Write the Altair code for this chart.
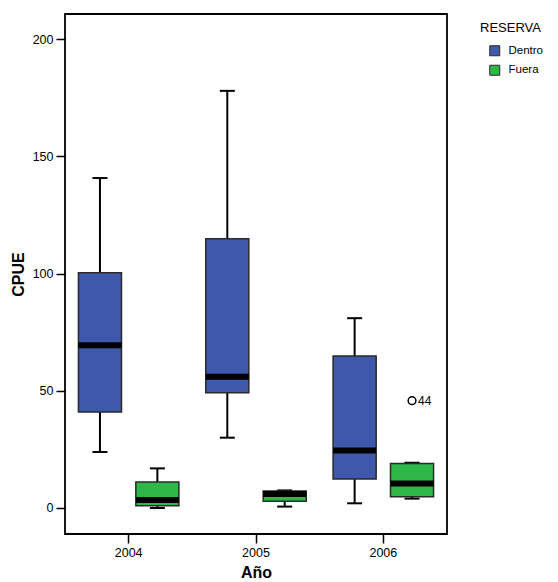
import altair as alt
import pandas as pd

# ---- data ----
years = ["2004", "2004", "2005", "2005", "2006", "2006"]
reserva = ["Dentro", "Fuera", "Dentro", "Fuera", "Dentro", "Fuera"]
lower = [23.9, 0.0, 30.0, 0.6, 2.0, 4.0]
q1 = [41.0, 1.0, 49.2, 2.9, 12.4, 4.8]
median = [69.4, 3.4, 56.0, 6.0, 24.5, 10.5]
q3 = [100.4, 11.1, 114.9, 7.3, 64.9, 19.0]
upper = [140.8, 16.9, 178.0, 7.5, 81.0, 19.3]

out_year = ["2006"]
out_res = ["Fuera"]
out_val = [45.8]
out_label = ["44"]

year_domain = ["2004", "2005", "2006"]
res_domain = ["Dentro", "Fuera"]
colors = ["#3E58AC", "#2EB848"]
y_ticks = [0, 50, 100, 150, 200]

df = pd.DataFrame({
    "Año": years, "RESERVA": reserva, "lower": lower, "q1": q1,
    "median": median, "q3": q3, "upper": upper,
})
dfo = pd.DataFrame({"Año": out_year, "RESERVA": out_res, "val": out_val, "lab": out_label})

x = alt.X("Año:N", scale=alt.Scale(domain=year_domain, paddingInner=0, paddingOuter=0),
          axis=alt.Axis(title="Año", labelAngle=0, titlePadding=6))


def XO():
    return alt.XOffset("RESERVA:N", scale=alt.Scale(domain=res_domain, paddingInner=0.25, paddingOuter=0.234))


yscale = alt.Scale(domain=[-11.1, 210.8], nice=False, zero=False)
yaxis = alt.Axis(title="CPUE", values=y_ticks, titlePadding=6)


def Y(field):
    return alt.Y(f"{field}:Q", scale=yscale, axis=yaxis)


base = alt.Chart(df)

whisk_lo = base.mark_rule(color="black", strokeWidth=2, opacity=1).encode(x=x, xOffset=XO(), y=Y("lower"), y2="q1")
whisk_hi = base.mark_rule(color="black", strokeWidth=2, opacity=1).encode(x=x, xOffset=XO(), y=Y("q3"), y2="upper")
cap_lo = base.mark_tick(color="black", size=15, thickness=2, opacity=1).encode(x=x, xOffset=XO(), y=Y("lower"))
cap_hi = base.mark_tick(color="black", size=15, thickness=2, opacity=1).encode(x=x, xOffset=XO(), y=Y("upper"))

boxes = base.mark_bar(stroke="#2a2a2a", strokeWidth=1.5, opacity=1).encode(
    x=x, xOffset=XO(), y=Y("q1"), y2="q3",
    color=alt.Color("RESERVA:N", scale=alt.Scale(domain=res_domain, range=colors),
                    legend=alt.Legend(title="RESERVA", orient="none", legendX=415, legendY=8,
                                      symbolType="square", symbolSize=100,
                                      symbolStrokeColor="#2a2a2a", symbolStrokeWidth=1,
                                      symbolOffset=9, titleFontSize=13, titleFontWeight="normal",
                                      labelFontSize=11.5, rowPadding=4.5, titlePadding=10,
                                      labelOffset=8, padding=0, titleColor="black",
                                      labelColor="black")),
)
med = base.mark_tick(color="black", size=43, thickness=6, opacity=1).encode(x=x, xOffset=XO(), y=Y("median"))

pts = alt.Chart(dfo).mark_point(shape="circle", filled=False, color="black", size=60, strokeWidth=1.5, opacity=1).encode(
    x=x, xOffset=XO(), y=alt.Y("val:Q", scale=yscale, axis=yaxis))
labs = alt.Chart(dfo).mark_text(align="left", baseline="middle", dx=6, fontSize=12, color="black").encode(
    x=x, xOffset=XO(), y=alt.Y("val:Q", scale=yscale, axis=yaxis), text="lab:N")

chart = alt.layer(whisk_lo, whisk_hi, cap_lo, cap_hi, boxes, med, pts, labs).properties(
    width=382, height=520,
    autosize=alt.AutoSizeParams(type="none"),
    padding={"left": 57, "top": 6, "right": 103, "bottom": 46},
).configure(font="Liberation Sans").configure_view(
    stroke="black", strokeWidth=1.8
).configure_axis(
    grid=False, domain=False, tickColor="black", tickWidth=1.5, tickSize=9,
    labelPadding=3, labelFontSize=12.5, labelColor="black",
    titleFontSize=16, titleFontWeight="bold", titleColor="black",
)

chart.save("out.html", embed_options={"renderer": "svg", "actions": False})
